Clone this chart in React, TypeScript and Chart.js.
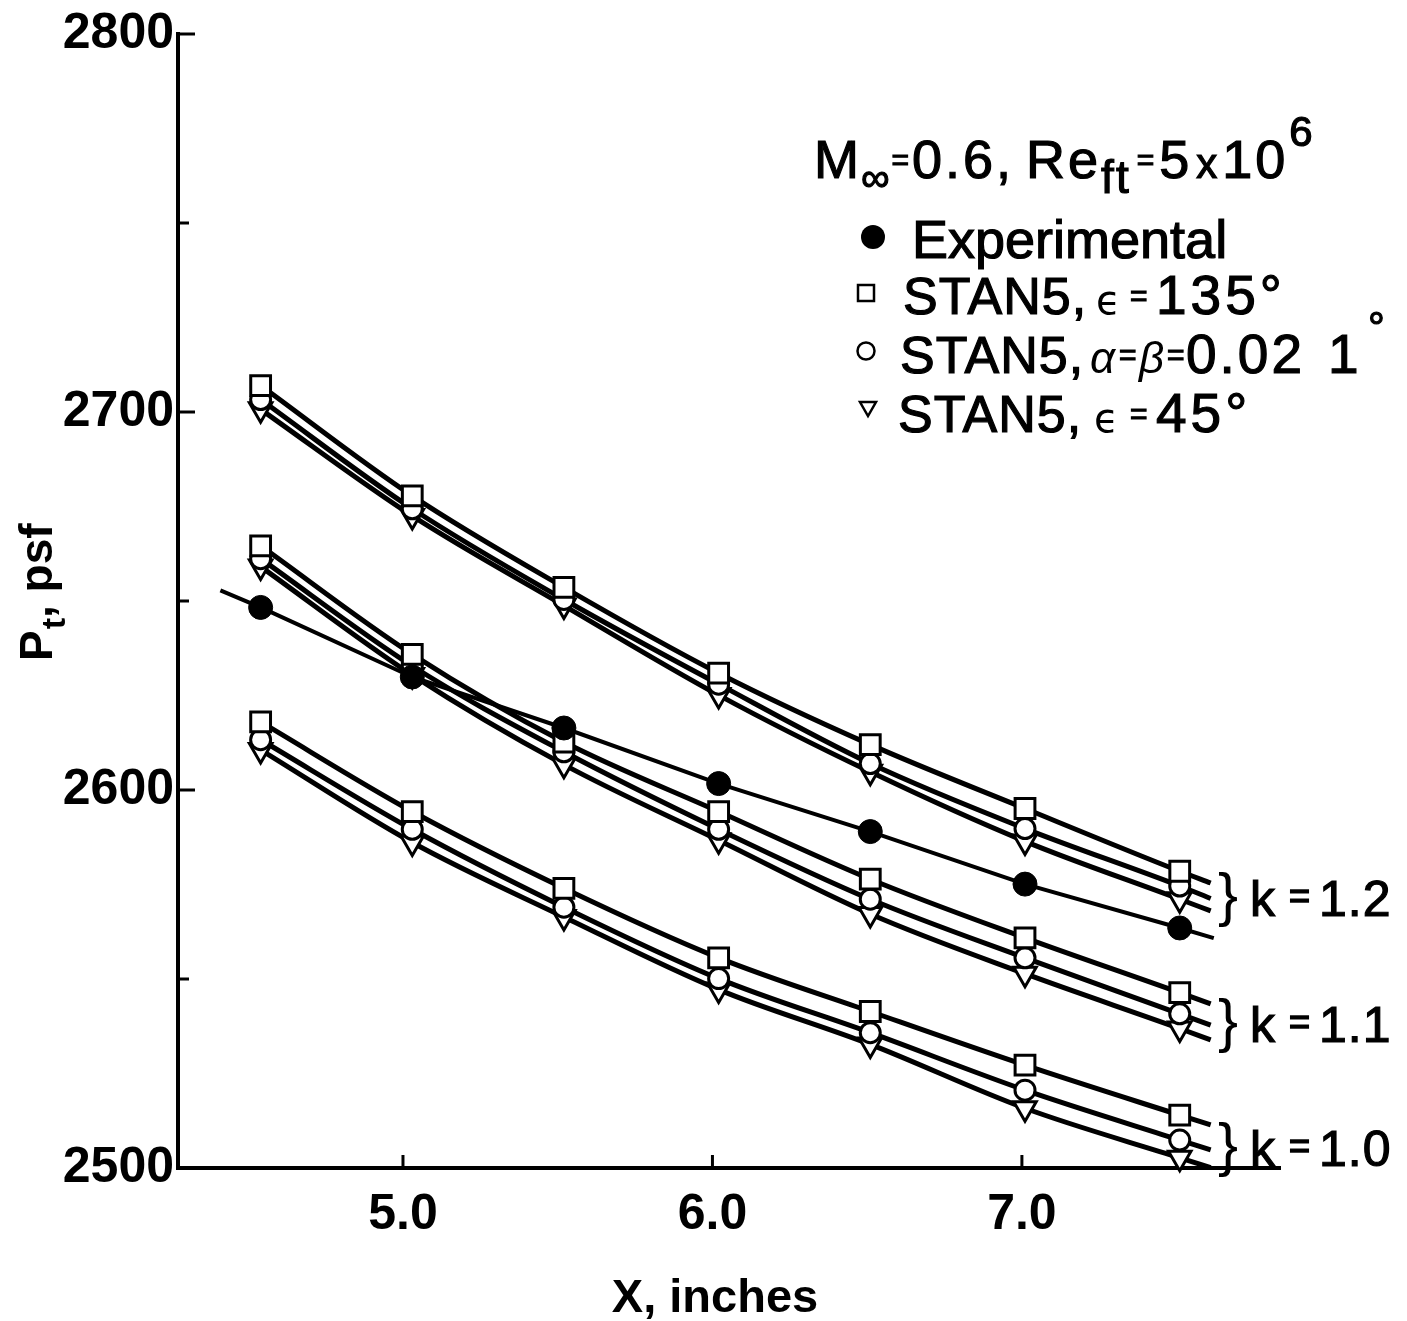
import React, { useEffect, useRef } from 'react';
import { Chart, registerables } from 'chart.js';

Chart.register(...registerables);

// ---- data ----
const stationX = [4.54, 5.03, 5.52, 6.02, 6.51, 7.01, 7.51];

const experimental = [2648.3, 2629.9, 2616.4, 2601.7, 2589.0, 2575.1, 2563.5];
const expLineX = [4.41, 7.62];
const expLineY = [2652.8, 2560.8];

const k12Square = [2707.0, 2677.8, 2653.6, 2630.9, 2612.0, 2595.1, 2578.5];
const k12Circle = [2703.3, 2674.4, 2650.4, 2628.0, 2607.0, 2589.8, 2574.6];
const k12Triangle = [2700.7, 2672.5, 2648.8, 2625.1, 2604.8, 2586.4, 2571.1];

const k11Square = [2664.6, 2635.9, 2612.7, 2594.3, 2576.4, 2560.9, 2546.4];
const k11Circle = [2661.2, 2632.8, 2610.1, 2589.6, 2571.1, 2555.6, 2540.8];
const k11Triangle = [2659.1, 2630.4, 2606.7, 2586.7, 2567.2, 2551.4, 2536.9];

const k10Square = [2618.0, 2594.3, 2574.0, 2555.6, 2541.4, 2527.2, 2514.0];
const k10Circle = [2613.3, 2589.6, 2569.0, 2550.1, 2535.8, 2520.6, 2507.4];
const k10Triangle = [2610.6, 2586.1, 2566.4, 2547.2, 2532.7, 2515.8, 2502.7];

// where the computed curves stop, past the last station (square, circle, triangle)
const calcLineEndX = 7.61;
const k12LineEnd = [2575.4, 2571.3, 2568.0];
const k11LineEnd = [2543.4, 2537.8, 2533.9];
const k10LineEnd = [2511.4, 2504.8, 2500.1];

const xTicks = [5.0, 6.0, 7.0];
const yMajorTicks = [2500, 2600, 2700, 2800];
const yMinorTicks = [2550, 2650, 2750];
const kLabels = ['1.2', '1.1', '1.0'];

const FONT = '"Liberation Sans", Arial, Helvetica, sans-serif';
const GREEK = '"DejaVu Sans", "Liberation Sans", sans-serif';

const pts = (xs: number[], ys: number[]) => xs.map((x, i) => ({ x, y: ys[i] }));

function calcLine(ys: number[], endY: number) {
  return {
    data: pts([...stationX, calcLineEndX], [...ys, endY]),
    showLine: true,
    borderColor: '#000',
    borderWidth: 5,
    pointRadius: 0,
    cubicInterpolationMode: 'monotone',
    order: 10,
    clip: false,
  };
}

function markers(ys: number[], style: string, radius: number, order: number, rotation = 0) {
  return {
    data: pts(stationX, ys),
    showLine: false,
    pointStyle: style,
    pointRadius: radius,
    pointHoverRadius: radius,
    pointRotation: rotation,
    pointBorderWidth: 3,
    pointBorderColor: '#000',
    pointBackgroundColor: '#fff',
    order,
    clip: false,
  };
}

type TOpt = { weight?: string; style?: string; stroke?: number; family?: string; ls?: number };

function txt(ctx: CanvasRenderingContext2D, s: string, x: number, y: number, size: number, o: TOpt = {}) {
  ctx.font = `${o.style || 'normal'} ${o.weight || 'normal'} ${size}px ${o.family || FONT}`;
  (ctx as any).letterSpacing = `${o.ls || 0}px`;
  ctx.fillText(s, x, y);
  if (o.stroke) {
    ctx.lineWidth = o.stroke;
    ctx.strokeText(s, x, y);
  }
  const w = ctx.measureText(s).width;
  (ctx as any).letterSpacing = '0px';
  return x + w;
}

const decorPlugin = {
  id: 'decor',
  afterDraw(chart: any) {
    const ctx: CanvasRenderingContext2D = chart.ctx;
    const xs = chart.scales.x;
    const ys = chart.scales.y;
    const { left, bottom } = chart.chartArea;
    ctx.save();
    ctx.strokeStyle = '#000';
    ctx.fillStyle = '#000';
    ctx.lineCap = 'butt';

    // inward tick marks
    ctx.lineWidth = 3;
    const seg = (a: number, b: number, c: number, d: number) => {
      ctx.beginPath(); ctx.moveTo(a, b); ctx.lineTo(c, d); ctx.stroke();
    };
    yMajorTicks.forEach(v => { const p = ys.getPixelForValue(v); seg(left, p, left + 17, p); });
    yMinorTicks.forEach(v => { const p = ys.getPixelForValue(v); seg(left, p, left + 11, p); });
    xTicks.forEach(v => { const p = xs.getPixelForValue(v); seg(p, bottom, p, bottom - 13); });

    ctx.textBaseline = 'alphabetic';
    ctx.textAlign = 'left';
    const S = 1.2;

    // axis titles
    ctx.textAlign = 'center';
    txt(ctx, 'X, inches', 715, 1312, 47, { weight: 'bold' });
    ctx.textAlign = 'left';
    ctx.save();
    ctx.translate(52, 661);
    ctx.rotate(-Math.PI / 2);
    let t = txt(ctx, 'P', 0, 0, 46, { weight: 'bold' });
    t = txt(ctx, 't', t + 1, 13, 34, { weight: 'bold' });
    txt(ctx, ', psf', t, 0, 46, { weight: 'bold' });
    ctx.restore();

    // legend header
    let x = 814;
    x = txt(ctx, 'M', x, 178, 54, { stroke: S, ls: 2 });
    x = txt(ctx, '\u221E', x, 191, 40, { stroke: S }) + 2;
    x = txt(ctx, '=', x, 170, 30, { stroke: S }) + 3;
    x = txt(ctx, '0.6,', x, 178, 54, { stroke: S, ls: 3 }) + 12;
    x = txt(ctx, 'Re', x, 178, 54, { stroke: S, ls: 3 });
    x = txt(ctx, 'ft', x, 193, 46, { stroke: S, ls: 2 }) + 6;
    x = txt(ctx, '=', x, 170, 30, { stroke: S }) + 5;
    x = txt(ctx, '5', x, 178, 54, { stroke: S }) + 7;
    x = txt(ctx, 'x', x, 178, 42, { stroke: S }) + 5;
    x = txt(ctx, '10', x, 178, 54, { stroke: S, ls: 3 }) + 1;
    txt(ctx, '6', x, 146, 42, { stroke: S });

    // legend symbols
    ctx.beginPath(); ctx.arc(873, 237, 12, 0, Math.PI * 2); ctx.fill();
    ctx.lineWidth = 2.5;
    ctx.strokeRect(858, 285, 16, 16);
    ctx.beginPath(); ctx.arc(866, 351, 8.5, 0, Math.PI * 2); ctx.stroke();
    ctx.beginPath(); ctx.moveTo(860, 402); ctx.lineTo(876, 402); ctx.lineTo(868, 416); ctx.closePath(); ctx.stroke();

    // legend rows
    txt(ctx, 'Experimental', 912, 258, 54, { stroke: S });

    txt(ctx, 'STAN5,', 903, 314, 52, { stroke: S, ls: 1 });
    txt(ctx, '\u03F5', 1096, 314, 40, { family: GREEK });
    txt(ctx, '=', 1130, 306, 30, { stroke: S });
    txt(ctx, '135\u00B0', 1156, 314, 55, { stroke: S, ls: 4 });

    txt(ctx, 'STAN5,', 900, 373, 52, { stroke: S, ls: 1 });
    txt(ctx, '\u03B1', 1090, 373, 44, { style: 'italic' });
    txt(ctx, '=', 1119, 365, 30, { stroke: S });
    txt(ctx, '\u03B2', 1139, 373, 44, { style: 'italic' });
    txt(ctx, '=', 1167, 365, 30, { stroke: S });
    txt(ctx, '0.02', 1186, 373, 55, { stroke: S, ls: 3 });
    txt(ctx, '1', 1328, 373, 55, { stroke: S });
    txt(ctx, '\u00B0', 1368, 342, 42, { stroke: S });

    txt(ctx, 'STAN5,', 898, 432, 52, { stroke: S, ls: 1 });
    txt(ctx, '\u03F5', 1094, 432, 40, { family: GREEK });
    txt(ctx, '=', 1130, 424, 30, { stroke: S });
    txt(ctx, '45\u00B0', 1156, 432, 55, { stroke: S, ls: 4 });

    // k labels with braces, centred on the ends of each group of curves
    [k12LineEnd, k11LineEnd, k10LineEnd].forEach((ends, i) => {
      const mean = ends.reduce((a, b) => a + b, 0) / ends.length;
      const cy = ys.getPixelForValue(mean);
      ctx.textBaseline = 'middle';
      txt(ctx, '}', 1218, cy + 1, 60);
      ctx.textBaseline = 'alphabetic';
      txt(ctx, 'k', 1250, cy + 19, 50, { stroke: S });
      txt(ctx, '=', 1289, cy + 11, 36, { stroke: 1.6 });
      txt(ctx, kLabels[i], 1319, cy + 19, 50, { stroke: S, ls: 1 });
    });

    ctx.restore();
  },
};

export default function App() {
  const ref = useRef<HTMLCanvasElement | null>(null);

  useEffect(() => {
    document.body.style.margin = '0';
    const canvas = ref.current;
    if (!canvas) return;
    const chart = new Chart(canvas, {
      type: 'scatter',
      data: {
        datasets: [
          {
            data: pts([expLineX[0], ...stationX, expLineX[1]], [expLineY[0], ...experimental, expLineY[1]]),
            showLine: true,
            borderColor: '#000',
            borderWidth: 4,
            pointRadius: 0,
            tension: 0,
            order: 10,
            clip: false,
          } as any,
          calcLine(k12Square, k12LineEnd[0]) as any,
          calcLine(k12Circle, k12LineEnd[1]) as any,
          calcLine(k12Triangle, k12LineEnd[2]) as any,
          calcLine(k11Square, k11LineEnd[0]) as any,
          calcLine(k11Circle, k11LineEnd[1]) as any,
          calcLine(k11Triangle, k11LineEnd[2]) as any,
          calcLine(k10Square, k10LineEnd[0]) as any,
          calcLine(k10Circle, k10LineEnd[1]) as any,
          calcLine(k10Triangle, k10LineEnd[2]) as any,
          markers(k12Triangle, 'triangle', 13, 4, 180) as any,
          markers(k11Triangle, 'triangle', 13, 4, 180) as any,
          markers(k10Triangle, 'triangle', 13, 4, 180) as any,
          markers(k12Circle, 'circle', 10, 3) as any,
          markers(k11Circle, 'circle', 10, 3) as any,
          markers(k10Circle, 'circle', 10, 3) as any,
          markers(k12Square, 'rect', 14, 2) as any,
          markers(k11Square, 'rect', 14, 2) as any,
          markers(k10Square, 'rect', 14, 2) as any,
          {
            data: pts(stationX, experimental),
            showLine: false,
            pointStyle: 'circle',
            pointRadius: 12,
            pointHoverRadius: 12,
            pointBorderWidth: 1,
            pointBorderColor: '#000',
            pointBackgroundColor: '#000',
            order: 0,
            clip: false,
          } as any,
        ],
      },
      options: {
        responsive: false,
        animation: false,
        devicePixelRatio: 1,
        events: [],
        layout: { padding: { top: 29, right: 127, bottom: 0, left: 0 } },
        plugins: { legend: { display: false }, tooltip: { enabled: false }, title: { display: false } },
        scales: {
          x: {
            type: 'linear',
            min: 4.273,
            max: 7.834,
            afterBuildTicks: (s: any) => { s.ticks = xTicks.map(v => ({ value: v })); },
            afterFit: (s: any) => { s.height = 153; },
            ticks: {
              callback: (v: any) => Number(v).toFixed(1),
              font: { family: FONT, size: 50, weight: 'bold' },
              color: '#000',
              padding: 17,
              maxRotation: 0,
              autoSkip: false,
            },
            grid: { display: false, drawTicks: false },
            border: { display: true, color: '#000', width: 4 },
          },
          y: {
            type: 'linear',
            min: 2500,
            max: 2800,
            afterBuildTicks: (s: any) => { s.ticks = yMajorTicks.map(v => ({ value: v })); },
            afterFit: (s: any) => { s.width = 178; },
            ticks: {
              callback: (v: any) => String(v),
              font: { family: FONT, size: 50, weight: 'bold' },
              color: '#000',
              padding: 4,
            },
            grid: { display: false, drawTicks: false },
            border: { display: true, color: '#000', width: 4 },
          },
        },
      },
      plugins: [decorPlugin],
    });
    return () => chart.destroy();
  }, []);

  return (
    <div style={{ width: 1407, height: 1321, background: '#fff' }}>
      <canvas ref={ref} width={1407} height={1321} style={{ display: 'block' }} />
    </div>
  );
}
